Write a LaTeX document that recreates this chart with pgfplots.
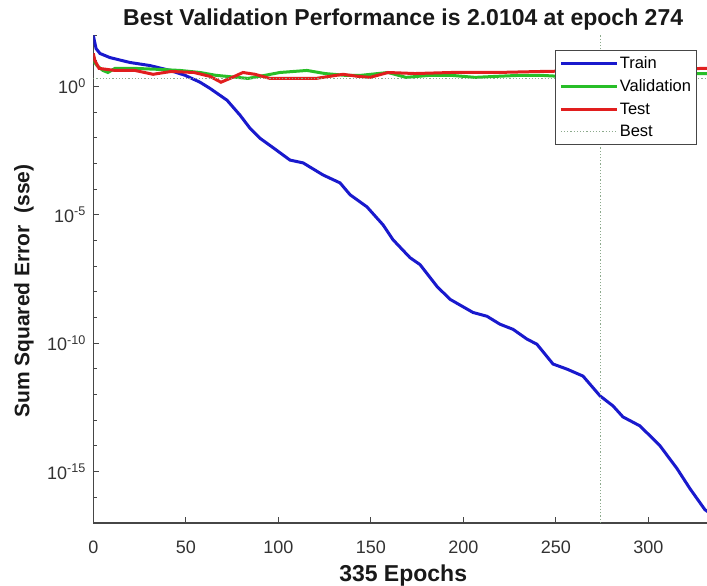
\documentclass[border=0pt]{standalone}
\usepackage{fontspec}
\setmainfont{Liberation Sans}
\usepackage{pgfplots}
\pgfplotsset{compat=1.18}
\definecolor{trainblue}{RGB}{25,25,205}
\definecolor{valgreen}{RGB}{40,190,40}
\definecolor{testred}{RGB}{225,30,30}
\definecolor{bestc}{RGB}{140,170,140}
\definecolor{axgray}{RGB}{70,70,70}
\definecolor{txtgray}{RGB}{50,50,50}
\begin{document}
\begin{tikzpicture}
\useasboundingbox (0,0) rectangle (707pt,586pt);
\begin{axis}[
  at={(93.3pt,63pt)}, anchor=south west,
  scale only axis, width=619.75pt, height=488pt,
  ymode=log, xmin=0, xmax=335, ymin=1e-17, ymax=1e2,
  axis x line*=bottom, axis y line*=left,
  axis line style={axgray, line width=1.1pt},
  xtick={0,50,100,150,200,250,300},
  ytick={1e-15,1e-10,1e-5,1},
  yticklabels={10\textsuperscript{-15},10\textsuperscript{-10},10\textsuperscript{-5},10\textsuperscript{0}},
  minor ytick={1e-17,1e-16,1e-14,1e-13,1e-12,1e-11,1e-9,1e-8,1e-7,1e-6,1e-4,1e-3,1e-2,1e-1,1e1,1e2},
  tick align=inside,
  tick style={axgray, line width=1pt},
  major tick length=6pt, minor tick length=4pt,
  /pgf/number format/assume math mode=true,
  ticklabel style={font=\fontsize{18}{20}\selectfont, text=txtgray},
  xticklabel style={yshift=-14pt},
  yticklabel style={xshift=-4pt},
  title={Best Validation Performance is 2.0104 at epoch 274},
  title style={font=\fontsize{23}{27}\selectfont\bfseries, text=black!90, at={(axis description cs:0.5,1.019)}, anchor=center},
  xlabel={335 Epochs},
  xlabel style={font=\fontsize{23}{27}\selectfont\bfseries, text=black!90, at={(axis description cs:0.5,-0.107)}, anchor=center},
  ylabel={Sum Squared Error\ \ (sse)},
  ylabel style={font=\fontsize{21}{25}\selectfont\bfseries, text=black!90, at={(axis description cs:-0.112,0.475)}, anchor=center, rotate=0},
  legend style={at={(0.974,0.969)}, anchor=north east, draw=axgray, fill=white, line width=0.8pt,
    font=\fontsize{16.5}{19}\selectfont, inner xsep=4pt, inner ysep=5pt, row sep=6.5pt,
    nodes={inner sep=1.5pt}},
  legend cell align=left,
  legend image code/.code={\draw[#1] (0pt,0pt) -- (56pt,0pt);},
]
\addplot[trainblue, line width=3pt] coordinates {
(0,9.55e1) (1.5,2.95e1) (3.6,1.91e1) (9.0,1.32e1) (19.8,8.51) (30.6,6.46) (41.5,4.17) (49.6,2.69) (57.7,1.45) (63.1,8.32e-1) (68.5,4.47e-1) (72.3,2.88e-1) (79.3,7.59e-2) (84.7,2.34e-2) (90.1,9.55e-3) (98.2,3.63e-3) (106.3,1.35e-3) (113.4,1.05e-3) (124.2,3.55e-4) (133.4,1.74e-4) (138.8,6.03e-5) (147.9,2.04e-5) (156.6,4.07e-6) (162.0,1.07e-6) (171.2,2.14e-7) (176.6,1.15e-7) (185.8,1.62e-8) (192.8,5.13e-9) (205.2,1.58e-9) (212.8,1.12e-9) (219.8,5.50e-10) (226.9,3.47e-10) (234.4,1.45e-10) (239.8,9.12e-11) (248.5,1.55e-11) (256.1,9.77e-12) (264.7,5.25e-12) (273.9,8.91e-13) (280.9,3.63e-13) (286.3,1.35e-13) (295.5,6.03e-14) (306.3,1.02e-14) (315.5,1.32e-15) (322.5,2.19e-16) (330.6,3.3e-17) (335,2.0e-17)
};
\addlegendentry{Train}
\addplot[valgreen, line width=3pt] coordinates {
(0,1.0e1) (2.0,6.46) (5.2,4.17) (7.9,3.47) (11.7,5.01) (22.5,5.01) (36.1,4.57) (46.9,4.17) (57.7,3.47) (66.3,2.69) (83.6,2.04) (92.8,2.69) (100.9,3.47) (115.5,4.17) (125.2,3.16) (136.1,2.69) (144.7,2.69) (159.3,3.47) (169.0,2.24) (182.0,2.69) (193.4,2.69) (206.3,2.24) (217.7,2.45) (230.6,2.69) (242.0,2.69) (252.3,2.45) (274,2.0104) (284.7,2.69) (300.9,2.95) (317.1,3.16) (335,3.16)
};
\addlegendentry{Validation}
\addplot[testred, line width=3pt] coordinates {
(0,1.91e1) (0.9,1.0e1) (3.1,5.01) (11.7,4.17) (22.5,4.17) (32.3,2.95) (42.0,3.80) (54.4,3.47) (63.1,2.45) (69.0,1.45) (73.9,2.04) (80.9,3.47) (87.4,2.95) (95.5,2.04) (106.3,2.04) (120.4,2.04) (135.0,2.95) (143.1,2.45) (149.6,2.24) (159.3,3.47) (173.9,3.16) (193.4,3.47) (217.7,3.47) (242.0,3.80) (273.9,4.17) (300.9,4.57) (330.6,5.01) (335,5.01)
};
\addlegendentry{Test}
\addplot[bestc, line width=1.2pt, dash pattern=on 1.2pt off 2pt] coordinates {(274,1e-17) (274,1e2)};
\addlegendentry{Best}
\addplot[bestc, line width=1.2pt, dash pattern=on 1.2pt off 2pt, forget plot] coordinates {(0,2.0104) (335,2.0104)};
\end{axis}
\end{tikzpicture}
\end{document}
